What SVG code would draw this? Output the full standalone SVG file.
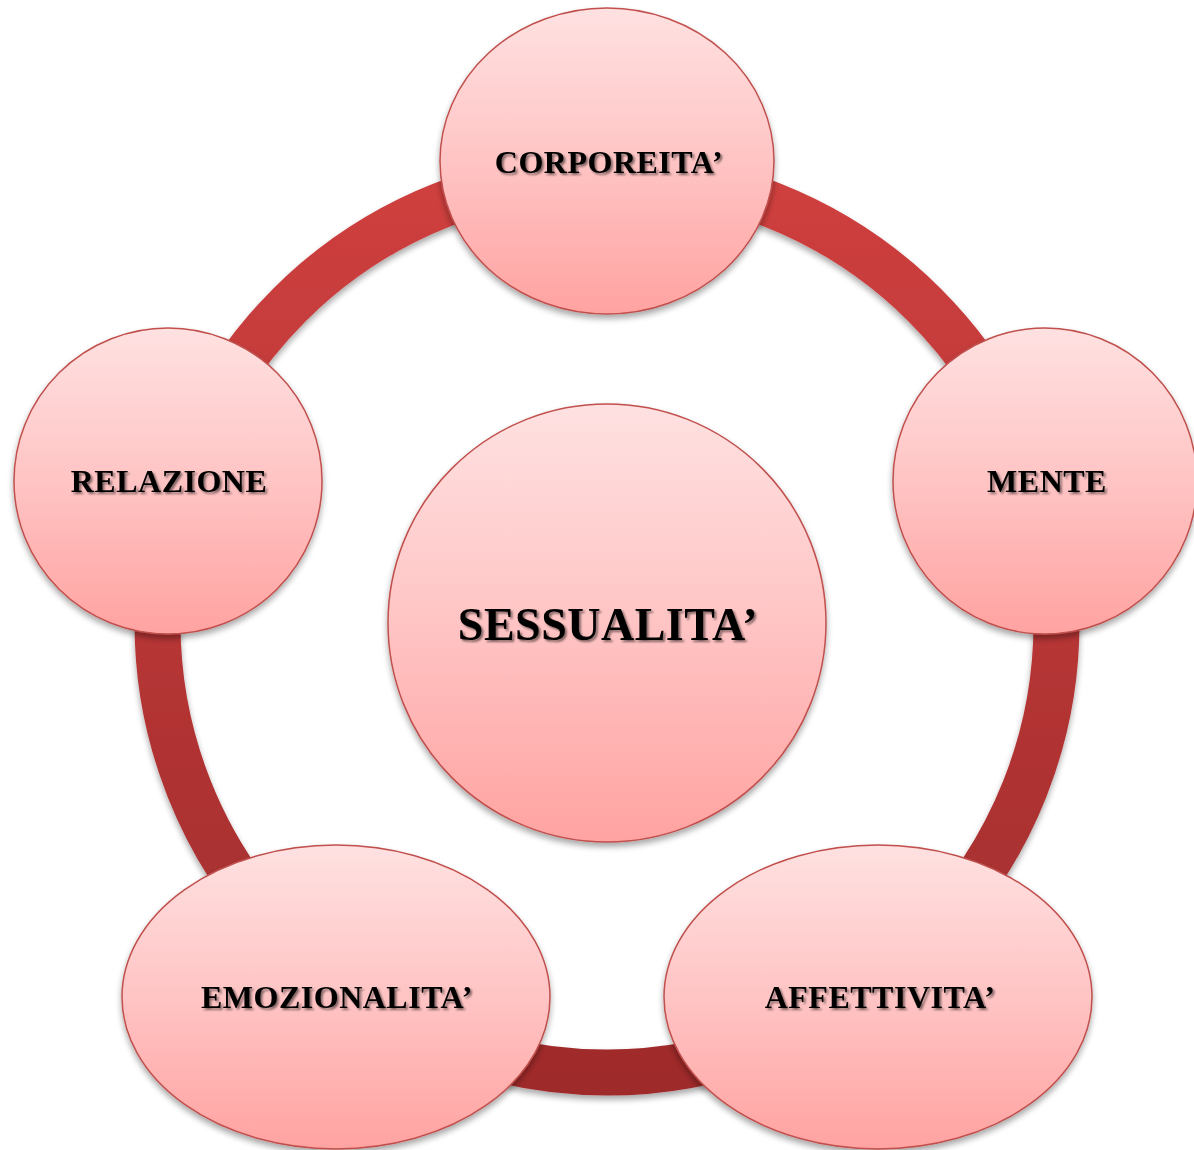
<svg xmlns="http://www.w3.org/2000/svg" width="1194" height="1150" viewBox="0 0 1194 1150">
<defs>
<linearGradient id="nodeFill" x1="0" y1="0" x2="0" y2="1">
<stop offset="0" stop-color="#FFE1E1"/>
<stop offset="0.5" stop-color="#FFC4C4"/>
<stop offset="1" stop-color="#FFA3A1"/>
</linearGradient>
<linearGradient id="ringFill" gradientUnits="userSpaceOnUse" x1="0" y1="150" x2="0" y2="1100">
<stop offset="0" stop-color="#D0403F"/>
<stop offset="1" stop-color="#9E2B2B"/>
</linearGradient>
<filter id="shadow" x="-10%" y="-10%" width="120%" height="125%">
<feGaussianBlur in="SourceAlpha" stdDeviation="3"/>
<feOffset dx="0" dy="4" result="b"/>
<feComponentTransfer><feFuncA type="linear" slope="0.35"/></feComponentTransfer>
<feMerge><feMergeNode/><feMergeNode in="SourceGraphic"/></feMerge>
</filter>
<filter id="txtShadow" x="-5%" y="-20%" width="110%" height="140%">
<feOffset in="SourceAlpha" dx="2" dy="2" result="o"/>
<feGaussianBlur in="o" stdDeviation="1"/>
<feComponentTransfer><feFuncA type="linear" slope="0.5"/></feComponentTransfer>
<feMerge><feMergeNode/><feMergeNode in="SourceGraphic"/></feMerge>
</filter>
</defs>
<style>
.node{fill:url(#nodeFill);stroke:#C0504D;stroke-width:1.5;filter:url(#shadow)}
.lbl{font-family:"Liberation Serif","Times New Roman",serif;font-weight:bold;font-size:32px;letter-spacing:0.5px;fill:#000;text-anchor:middle;filter:url(#txtShadow)}
.big{font-size:46px}
</style>
<rect width="1194" height="1150" fill="#FFFFFF"/>
<g id="connectors">
<circle cx="607" cy="623" r="449.5" fill="none" stroke="url(#ringFill)" stroke-width="46" filter="url(#shadow)"/>
</g>
<g id="node-corporeita">
<ellipse class="node" cx="607" cy="161" rx="167" ry="153"/>
<text class="lbl" x="609" y="173">CORPOREITA’</text>
</g>
<g id="node-mente">
<ellipse class="node" cx="1045" cy="481" rx="152" ry="153"/>
<text class="lbl" x="1047" y="492">MENTE</text>
</g>
<g id="node-relazione">
<ellipse class="node" cx="168" cy="481" rx="154" ry="153"/>
<text class="lbl" x="169" y="492">RELAZIONE</text>
</g>
<g id="node-emozionalita">
<ellipse class="node" cx="336" cy="997" rx="214" ry="152"/>
<text class="lbl" x="337" y="1008">EMOZIONALITA’</text>
</g>
<g id="node-affettivita">
<ellipse class="node" cx="878" cy="997" rx="214" ry="152"/>
<text class="lbl" x="880" y="1008">AFFETTIVITA’</text>
</g>
<g id="node-sessualita">
<circle class="node" cx="607" cy="623" r="219"/>
<text class="lbl big" x="608" y="640">SESSUALITA’</text>
</g>
</svg>
